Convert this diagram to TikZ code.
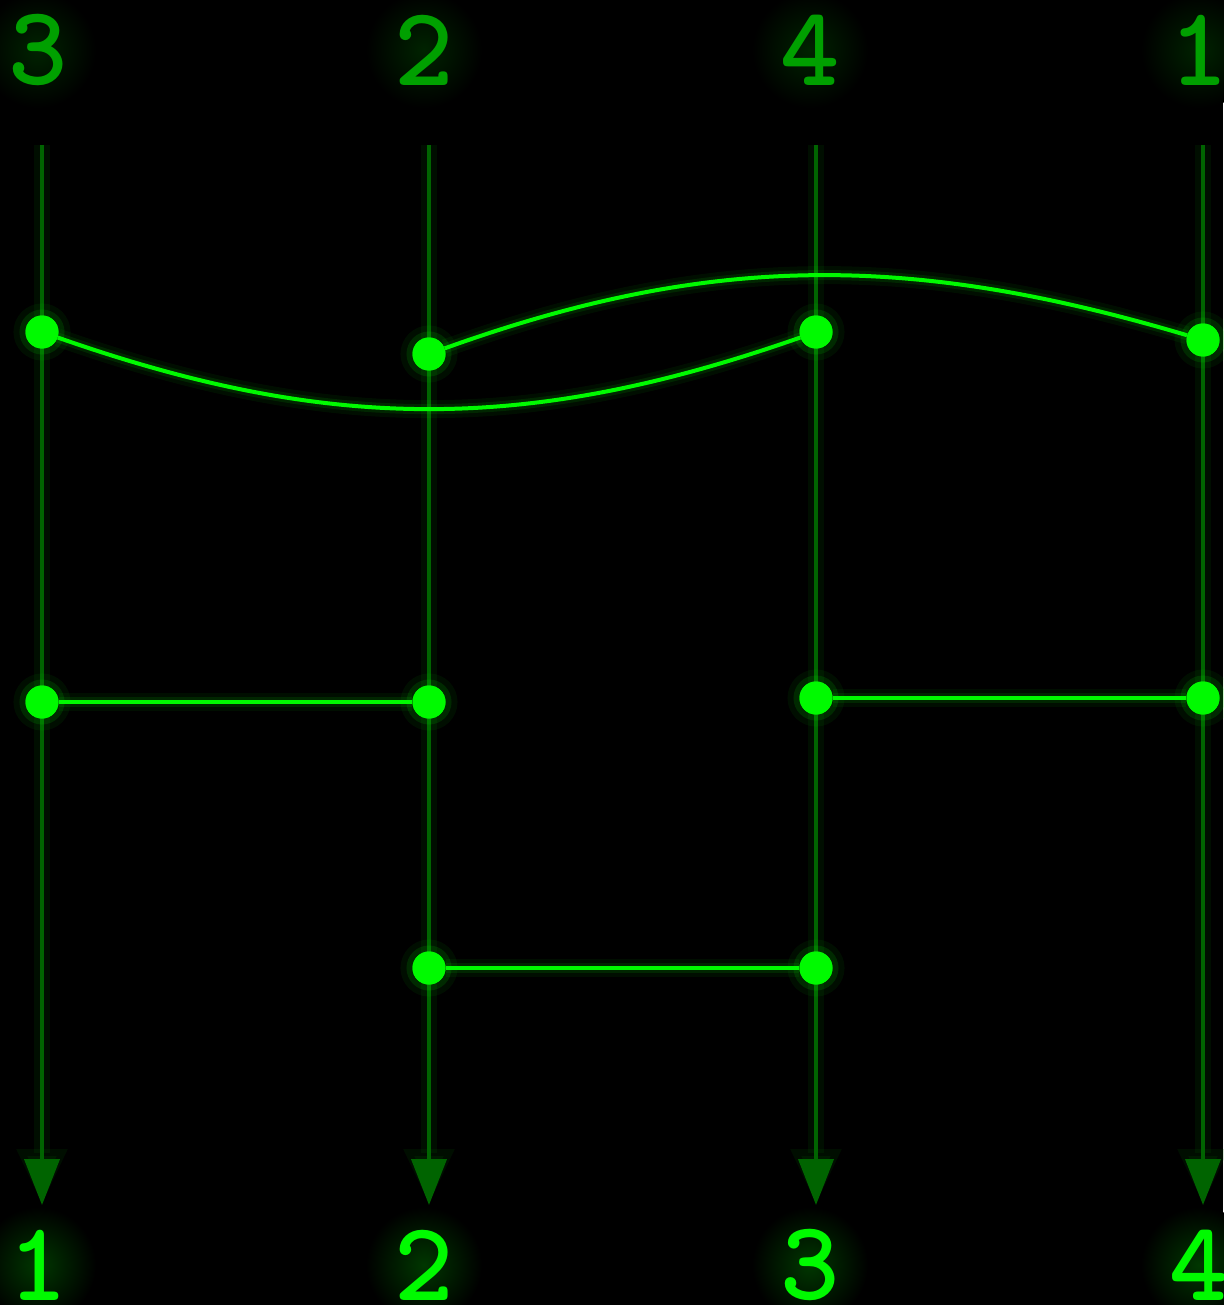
\documentclass[tikz,border=0pt]{standalone}
\usetikzlibrary{arrows.meta}
\definecolor{railc}{RGB}{0,100,0}
\definecolor{bright}{RGB}{0,250,0}
\definecolor{toplab}{RGB}{0,160,0}
\begin{document}
\begin{tikzpicture}[x=1pt,y=-1pt,
  railline/.style={draw=railc, line width=4pt, -{Triangle[width=35pt,length=46pt]},
    preaction={draw=railc, line width=16pt, draw opacity=0.14, -{Triangle[width=47pt,length=56pt]}, fill opacity=0.14}},
  link/.style={draw=bright, line width=4pt,
    preaction={draw=bright, line width=18pt, draw opacity=0.06},
    preaction={draw=bright, line width=10pt, draw opacity=0.10}},
  dot/.style={circle, fill=bright, inner sep=0pt, minimum size=33pt,
    preaction={draw=bright, line width=24pt, draw opacity=0.06},
    preaction={draw=bright, line width=12pt, draw opacity=0.12}},
  lab/.style={font=\ttfamily\bfseries\fontsize{113}{113}\selectfont, inner sep=0pt},
  halo/.style={inner color=#1, outer color=black}
]
\fill[black] (0,0) rectangle (1223,1305);
\useasboundingbox (0,0) rectangle (1223,1305);

% halos behind labels
\foreach \x in {38,424,810,1199} {
  \shade[halo=toplab!22!black] (\x,50) circle (58);
  \shade[halo=bright!22!black] (\x,1265) circle (58);
}

% labels
\node[lab, text=toplab] (t3) at (38,50) {3};
\node[lab, text=toplab] (t2) at (424,50) {2};
\node[lab, text=toplab] (t4) at (810,50) {4};
\node[lab, text=toplab] (t1) at (1199,50) {1};
\node[lab, text=bright] (o1) at (38,1265) {1};
\node[lab, text=bright] (o2) at (424,1265) {2};
\node[lab, text=bright] (o3) at (810,1265) {3};
\node[lab, text=bright] (o4) at (1199,1265) {4};

% rails
\coordinate (ra) at (42,145);   \coordinate (rae) at (42,1205);
\coordinate (rb) at (429,145);  \coordinate (rbe) at (429,1205);
\coordinate (rc) at (816,145);  \coordinate (rce) at (816,1205);
\coordinate (rd) at (1203,145); \coordinate (rde) at (1203,1205);
\draw[railline] (ra) -- (rae);
\draw[railline] (rb) -- (rbe);
\draw[railline] (rc) -- (rce);
\draw[railline] (rd) -- (rde);

% dots
\node[dot] (a1) at (42,332) {};
\node[dot] (b1) at (429,354) {};
\node[dot] (c1) at (816,332) {};
\node[dot] (d1) at (1203,340) {};
\node[dot] (a2) at (42,702) {};
\node[dot] (b2) at (429,702) {};
\node[dot] (c2) at (816,698) {};
\node[dot] (d2) at (1203,698) {};
\node[dot] (b3) at (429,968) {};
\node[dot] (c3) at (816,968) {};

% connectors
\draw[link] (a1) .. controls (330,433) and (528,433) .. (c1);
\draw[link] (b1) .. controls (710,253) and (910,253) .. (d1);
\draw[link] (a2) -- (b2);
\draw[link] (c2) -- (d2);
\draw[link] (b3) -- (c3);

% redraw dots on top
\foreach \n in {a1,b1,c1,d1,a2,b2,c2,d2,b3,c3}
  \fill[bright] (\n.center) circle (16.5);
\end{tikzpicture}
\end{document}
